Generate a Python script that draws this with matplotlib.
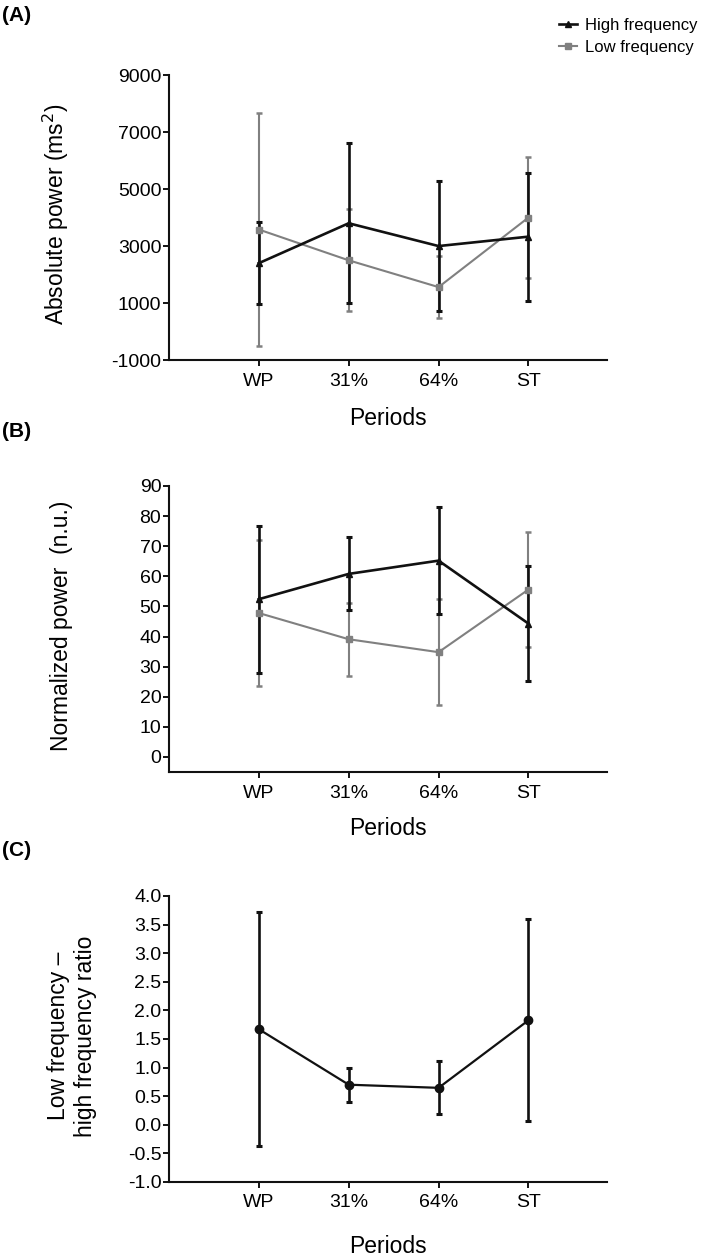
import numpy as np
import matplotlib
matplotlib.use("Agg")
import matplotlib.pyplot as plt
from matplotlib.lines import Line2D

plt.rcParams['font.family'] = ['Liberation Sans', 'DejaVu Sans']
plt.rcParams['axes.unicode_minus'] = False

# Data (mean ± SD)
periods = ["WP", "31%", "64%", "ST"]

hf_abs_mean = [2400, 3800, 3000, 3330]
hf_abs_sd = [1450, 2800, 2280, 2250]
lf_abs_mean = [3580, 2500, 1560, 4000]
lf_abs_sd = [4080, 1790, 1085, 2110]

hf_nu_mean = [52.4, 60.8, 65.2, 44.3]
hf_nu_sd = [24.4, 12.1, 17.7, 19.0]
lf_nu_mean = [47.8, 39.1, 34.8, 55.6]
lf_nu_sd = [24.3, 12.1, 17.7, 19.0]

ratio_mean = [1.67, 0.70, 0.645, 1.825]
ratio_sd = [2.04, 0.30, 0.465, 1.765]

BLACK = "#111111"
GRAY = "#808080"
x = np.arange(1, len(periods) + 1)

fig = plt.figure(figsize=(7.07, 12.59), dpi=100)
ax_a = fig.add_axes([0.239, 0.714, 0.619, 0.2264])
ax_b = fig.add_axes([0.239, 0.3868, 0.619, 0.2272])
ax_c = fig.add_axes([0.239, 0.0612, 0.619, 0.2272])


def style_axis(ax, ylim, yticks, ylabel, ylab_x, xlab_y):
    ax.set_xlim(0, 4.87)
    ax.set_ylim(*ylim)
    ax.set_yticks(yticks)
    ax.set_xticks(x)
    ax.set_xticklabels(periods)
    for s in ["top", "right"]:
        ax.spines[s].set_visible(False)
    for s in ["left", "bottom"]:
        ax.spines[s].set_linewidth(1.5)
        ax.spines[s].set_color(BLACK)
    ax.spines["left"].set_bounds(ylim[0], yticks[-1])
    ax.tick_params(axis="y", length=4.5, width=1.3, pad=1, labelsize=14)
    ax.tick_params(axis="x", length=4, width=1.3, pad=5, labelsize=14)
    ax.set_ylabel(ylabel, fontsize=16.5)
    ax.yaxis.set_label_coords(ylab_x, 0.51)
    ax.set_xlabel("Periods", fontsize=16.5)
    ax.xaxis.set_label_coords(0.5, xlab_y)


# (A) absolute power
ax_a.errorbar(x, lf_abs_mean, yerr=lf_abs_sd, color=GRAY, lw=1.5, marker="s",
              ms=5, capsize=2.5, capthick=1.8, elinewidth=1.5)
ax_a.errorbar(x, hf_abs_mean, yerr=hf_abs_sd, color=BLACK, lw=1.9, marker="^",
              ms=5, capsize=2.5, capthick=2.2, elinewidth=1.9)
style_axis(ax_a, (-1000, 9000), [-1000, 1000, 3000, 5000, 7000, 9000],
           "Absolute power (ms$^2$)", -0.225, -0.165)

# (B) normalized power
ax_b.errorbar(x, lf_nu_mean, yerr=lf_nu_sd, color=GRAY, lw=1.5, marker="s",
              ms=5, capsize=2.5, capthick=1.8, elinewidth=1.5)
ax_b.errorbar(x, hf_nu_mean, yerr=hf_nu_sd, color=BLACK, lw=1.9, marker="^",
              ms=5, capsize=2.5, capthick=2.2, elinewidth=1.9)
style_axis(ax_b, (-5, 90), list(range(0, 91, 10)),
           "Normalized power  (n.u.)", -0.22, -0.157)

# (C) LF/HF ratio
ax_c.errorbar(x, ratio_mean, yerr=ratio_sd, color=BLACK, lw=1.6, marker="o",
              ms=6, capsize=2.5, capthick=2.2, elinewidth=1.9)
ratio_ticks = np.arange(-1.0, 4.01, 0.5)
style_axis(ax_c, (-1.0, 4.0), ratio_ticks,
           "Low frequency \u2013\nhigh frequency ratio", -0.165, -0.185)
ax_c.set_yticklabels([f"{v:.1f}" for v in ratio_ticks])

# panel letters
fig.text(0.003, 0.9955, "(A)", fontsize=15, fontweight="bold", va="top")
fig.text(0.003, 0.6645, "(B)", fontsize=15, fontweight="bold", va="top")
fig.text(0.003, 0.332, "(C)", fontsize=15, fontweight="bold", va="top")

# legend
handles = [Line2D([], [], color=BLACK, lw=1.9, marker="^", ms=5),
           Line2D([], [], color=GRAY, lw=1.5, marker="s", ms=5)]
fig.legend(handles, ["High frequency", "Low frequency"], loc="upper left",
           bbox_to_anchor=(0.79, 0.986), frameon=False, fontsize=12,
           handlelength=1.1, handletextpad=0.5, labelspacing=0.42,
           borderpad=0, borderaxespad=0)

fig.savefig("out.png", dpi=100)
